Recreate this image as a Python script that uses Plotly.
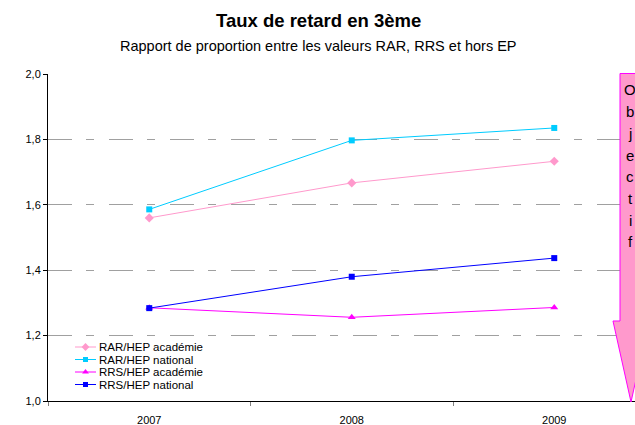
import plotly.graph_objects as go

# ---- data ----
years = ["2007", "2008", "2009"]
rar_hep_academie = [1.56, 1.667, 1.733]
rar_hep_national = [1.586, 1.797, 1.835]
rrs_hep_academie = [1.285, 1.256, 1.286]
rrs_hep_national = [1.284, 1.380, 1.437]

series_names = ["RAR/HEP académie", "RAR/HEP national", "RRS/HEP académie", "RRS/HEP national"]
series_values = [rar_hep_academie, rar_hep_national, rrs_hep_academie, rrs_hep_national]
series_colors = ["#FF99CC", "#00CCFF", "#FF00FF", "#0000FF"]
series_symbols = ["diamond", "square", "triangle-up", "square"]
series_sizes = [7, 6, 7, 6]

title_text = "Taux de retard en 3ème"
subtitle_text = "Rapport de proportion entre les valeurs RAR, RRS et hors EP"
objective_text = "Objectif"

# ---- layout geometry (window pixels) ----
W, H = 635, 425
L, T, B = 48, 74, 401        # plot area edges
PW, PH = W - L, B - T

def px(x):
    return (x - L) / PW

def py(y):
    return (B - y) / PH

FONT = "Liberation Sans, Arial, sans-serif"

fig = go.Figure()

for name, vals, col, sym, sz in zip(series_names, series_values, series_colors, series_symbols, series_sizes):
    fig.add_trace(go.Scatter(
        x=years, y=vals, name=name, mode="lines+markers",
        line=dict(color=col, width=1),
        marker=dict(color=col, symbol=sym, size=sz, line=dict(width=0)),
        showlegend=False, cliponaxis=False,
    ))

# ---- manual compact legend (overlay axes in plot-area fractions) ----
legend_rows_px = [347, 359.5, 372, 384.5]
for name, col, sym, sz, ry in zip(series_names, series_colors, series_symbols, series_sizes, legend_rows_px):
    fig.add_trace(go.Scatter(
        x=[px(75), px(96)], y=[py(ry), py(ry)], mode="lines",
        line=dict(color=col, width=1), xaxis="x2", yaxis="y2",
        showlegend=False, hoverinfo="skip",
    ))
    fig.add_trace(go.Scatter(
        x=[px(85.5)], y=[py(ry)], mode="markers",
        marker=dict(color=col, symbol=sym, size=sz - 1, line=dict(width=0)),
        xaxis="x2", yaxis="y2", showlegend=False, hoverinfo="skip",
    ))
    fig.add_annotation(
        x=px(97), y=py(ry), xref="paper", yref="paper", text=name,
        showarrow=False, xanchor="left", yanchor="middle",
        font=dict(family=FONT, size=11.5, color="#000000"),
    )

# ---- objective arrow ----
arrow_pts = [(620, 73.5), (642, 73.5), (642, 321), (649, 321), (631, 402), (613, 321), (620, 321)]
path = "M " + " L ".join(f"{px(x):.5f},{py(y):.5f}" for x, y in arrow_pts) + " Z"
fig.add_shape(type="path", path=path, xref="paper", yref="paper",
              fillcolor="#FF99CC", line=dict(color="#FF00FF", width=1), layer="above")
for i, ch in enumerate(objective_text):
    fig.add_annotation(
        x=px(630), y=py(90 + i * 21.7), xref="paper", yref="paper",
        text=ch, showarrow=False, xanchor="center", yanchor="middle",
        font=dict(family=FONT, size=15, color="#000000"),
    )

# ---- titles ----
fig.add_annotation(x=px(318), y=py(20), xref="paper", yref="paper", text=f"<b>{title_text}</b>",
                   showarrow=False, xanchor="center", yanchor="middle",
                   font=dict(family=FONT, size=18.5, color="#000000"))
fig.add_annotation(x=px(318), y=py(46), xref="paper", yref="paper", text=subtitle_text,
                   showarrow=False, xanchor="center", yanchor="middle",
                   font=dict(family=FONT, size=14.5, color="#000000"))

fig.update_layout(
    width=W, height=H,
    margin=dict(l=L, r=0, t=T, b=H - B, pad=0, autoexpand=False),
    paper_bgcolor="white", plot_bgcolor="white",
    separators=", ",
    font=dict(family=FONT, size=11, color="#000000"),
    xaxis=dict(
        type="category", range=[-0.5, -0.5 + PW / 202.5], tickson="boundaries",
        ticks="outside", ticklen=4, tickcolor="#808080", tickwidth=1,
        showline=True, linecolor="#000000", linewidth=1,
        showgrid=False, zeroline=False, automargin=False, fixedrange=True,
        ticklabelstandoff=9, tickfont=dict(size=11),
    ),
    yaxis=dict(
        range=[1.0, 2.0], dtick=0.2, tick0=1.0, tickformat=".1f",
        ticks="outside", ticklen=4, tickcolor="#000000", tickwidth=1,
        showline=True, linecolor="#000000", linewidth=1,
        showgrid=True, gridcolor="#a0a0a0", gridwidth=1, griddash="24px,14px,8px,15px",
        zeroline=False, automargin=False, fixedrange=True, tickfont=dict(size=11),
    ),
    xaxis2=dict(range=[0, 1], overlaying="x", visible=False, fixedrange=True),
    yaxis2=dict(range=[0, 1], overlaying="y", visible=False, fixedrange=True),
)

fig.write_html(
    "out.html",
    config={"displayModeBar": False},
    post_script="document.body.style.margin='0';document.body.style.overflow='hidden';",
)
